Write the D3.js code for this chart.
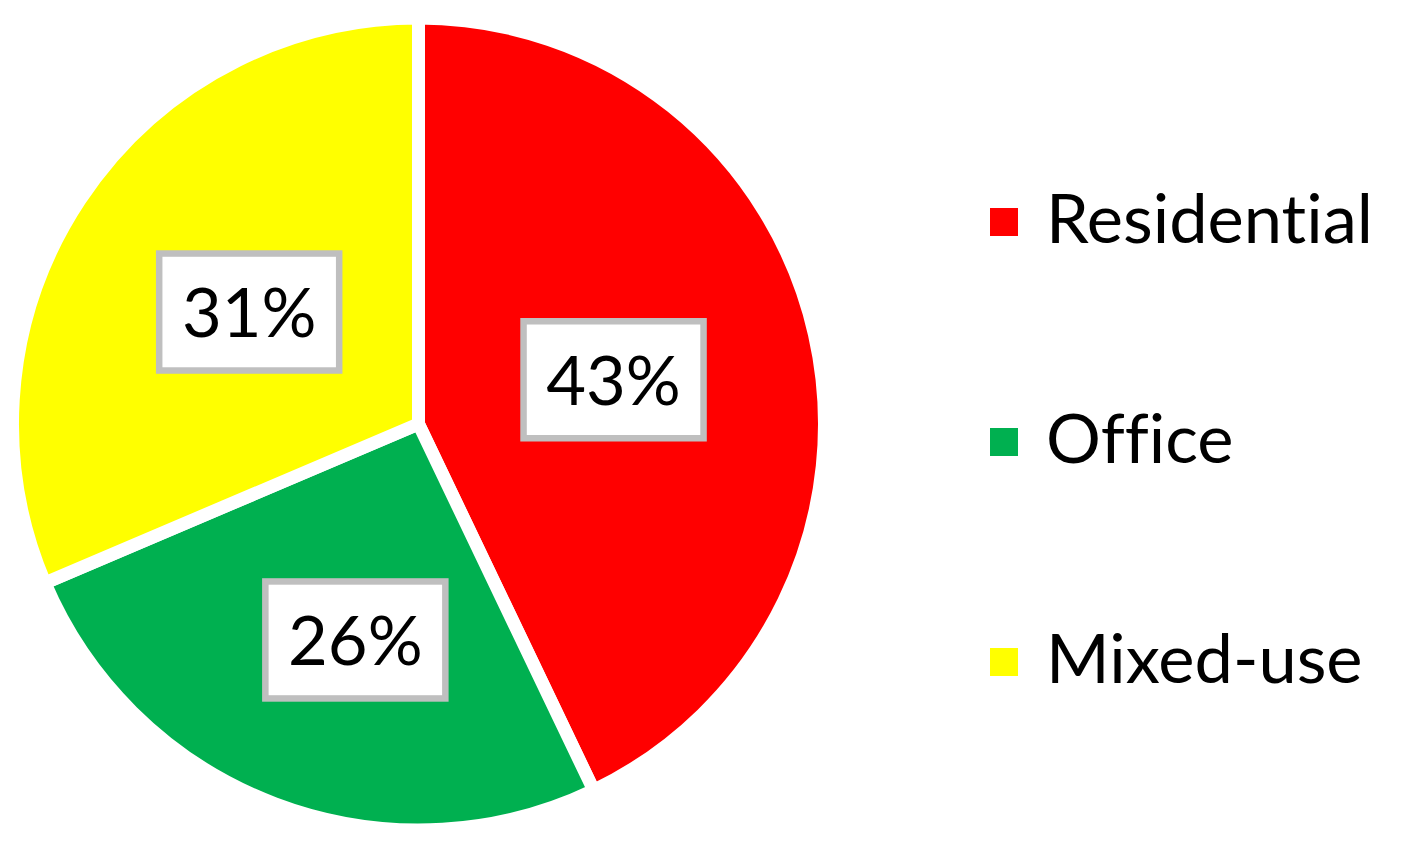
<!DOCTYPE html>
<html>
<head>
<meta charset="utf-8">
<script src="https://cdn.jsdelivr.net/npm/d3@7"></script>
<style>
  html, body { margin: 0; padding: 0; background: #fff; }
  svg { display: block; }
  text { font-variant-ligatures: none; font-feature-settings: "liga" 0, "clig" 0, "dlig" 0; }
</style>
</head>
<body>
<svg id="chart" width="1403" height="850"></svg>
<script>
// ---- data ----
const categories = ["Residential", "Office", "Mixed-use"];
const shares = [42.9, 25.7, 31.4];          // percent
const colors = ["#FF0000", "#00B050", "#FFFF00"];
const labelTexts = ["43%", "26%", "31%"];

// ---- layout ----
const W = 1403, H = 850;
const cx = 418.5, cy = 424;
const gap = 13;
const R = 399.5 + gap / 2;
const labelRadius = [200, 225, 203];
const labelAngleNudge = [0, -4.4, 0];       // degrees
const fontFamily = "Lato, 'Open Sans', sans-serif";
const targetWidth = 327;                    // width of "Residential"

const svg = d3.select("#chart");

// fit font size
const probe = svg.append("text").attr("font-family", fontFamily).attr("font-size", 100).text(categories[0]);
const probeW = probe.node().getBBox().width;
probe.remove();
const fontSize = 100 * targetWidth / probeW;

const pie = d3.pie().sort(null).value(d => d)(shares);
const arc = d3.arc().innerRadius(0).outerRadius(R);

const g = svg.append("g").attr("transform", `translate(${cx},${cy})`);
g.selectAll("path.slice").data(pie).join("path")
  .attr("class", "slice")
  .attr("d", arc)
  .attr("fill", (d, i) => colors[i])
  .attr("stroke", "#fff")
  .attr("stroke-width", gap)
  .attr("stroke-linejoin", "miter");

// data labels
const boxW = 180, boxH = 117;
const lbl = g.selectAll("g.lbl").data(pie).join("g").attr("class", "lbl")
  .attr("transform", (d, i) => {
    const a = (d.startAngle + d.endAngle) / 2 + labelAngleNudge[i] * Math.PI / 180;
    const r = labelRadius[i];
    return `translate(${r * Math.sin(a)},${-r * Math.cos(a)})`;
  });
lbl.append("rect")
  .attr("x", -boxW / 2).attr("y", -boxH / 2)
  .attr("width", boxW).attr("height", boxH)
  .attr("fill", "#fff").attr("stroke", "#BFBFBF").attr("stroke-width", 6.5);
lbl.append("text")
  .attr("text-anchor", "middle")
  .attr("y", 25)
  .attr("font-family", fontFamily)
  .attr("font-size", fontSize)
  .attr("fill", "#000")
  .text((d, i) => labelTexts[i]);

// legend
const legend = svg.append("g");
const legY = d3.scalePoint().domain(categories).range([243, 683]);
const item = legend.selectAll("g").data(categories).join("g")
  .attr("transform", d => `translate(0,${legY(d)})`);
item.append("rect")
  .attr("x", 990).attr("y", -35).attr("width", 28).attr("height", 28)
  .attr("fill", (d, i) => colors[i]);
item.append("text")
  .attr("x", 1046).attr("y", 0)
  .attr("font-family", fontFamily)
  .attr("font-size", fontSize)
  .attr("fill", "#000")
  .text(d => d);
</script>
</body>
</html>
